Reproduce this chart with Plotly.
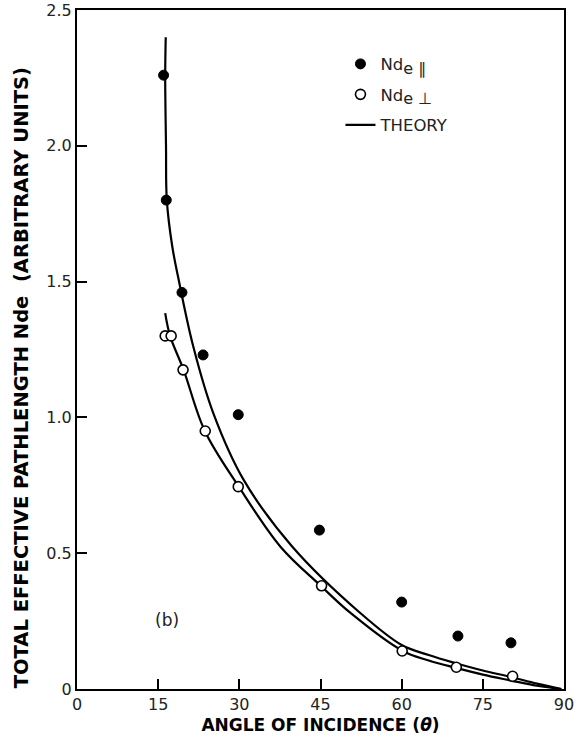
import plotly.graph_objects as go

# Measured data: Nde parallel (filled) and Nde perpendicular (open)
par_angle = [16.0, 16.5, 19.4, 23.3, 29.8, 44.8, 60.0, 70.4, 80.2]
par_nde = [2.26, 1.80, 1.46, 1.23, 1.01, 0.585, 0.32, 0.195, 0.17]

perp_angle = [16.3, 17.4, 19.6, 23.7, 29.8, 45.2, 60.1, 70.1, 80.5]
perp_nde = [1.30, 1.30, 1.175, 0.95, 0.745, 0.38, 0.14, 0.08, 0.047]

# Theory curves
theory_par_angle = [16.4, 16.3, 16.45, 16.6, 17.6, 18.8, 21.5, 25.2, 30.8, 39.8, 52.4,
                    60.0, 65.0, 70.0, 75.0, 80.0, 85.0, 89.5]
theory_par_nde = [2.40, 2.26, 2.00, 1.80, 1.63, 1.506, 1.26, 1.015, 0.77, 0.524, 0.279,
                  0.162, 0.125, 0.095, 0.068, 0.045, 0.02, 0.0]

theory_perp_angle = [16.3, 17.2, 19.7, 23.6, 29.9, 37.6, 45.1, 50.6, 60.2, 65.0, 70.0,
                     75.0, 80.0, 85.0, 89.5]
theory_perp_nde = [1.384, 1.30, 1.175, 0.951, 0.745, 0.524, 0.379, 0.279, 0.14, 0.105, 0.078,
                   0.053, 0.032, 0.012, 0.0]

x_ticks = [0, 15, 30, 45, 60, 75, 90]
y_ticks = [0, 0.5, 1.0, 1.5, 2.0, 2.5]
y_tick_labels = ["0", "0.5", "1.0", "1.5", "2.0", "2.5"]

FONT = "DejaVu Sans"
TXT = "#222222"

fig = go.Figure()

fig.add_trace(go.Scatter(
    x=theory_par_angle, y=theory_par_nde, mode="lines",
    line=dict(color="black", width=2.2, shape="spline", smoothing=1.0),
    name="THEORY", legendrank=3, legendgroup="c", showlegend=True))
fig.add_trace(go.Scatter(
    x=theory_perp_angle, y=theory_perp_nde, mode="lines",
    line=dict(color="black", width=2.2, shape="spline", smoothing=1.0),
    name="THEORY", legendgroup="c", showlegend=False))
fig.add_trace(go.Scatter(
    x=par_angle, y=par_nde, mode="markers",
    marker=dict(symbol="circle", size=10, color="black", line=dict(color="black", width=1)),
    name="Nd<sub><span style='font-size:16px'>e ∥</span></sub>", legendrank=1, legendgroup="a"))
fig.add_trace(go.Scatter(
    x=perp_angle, y=perp_nde, mode="markers",
    marker=dict(symbol="circle", size=10, color="white", line=dict(color="black", width=1.6)),
    name="Nd<sub><span style='font-size:16px'>e ⊥</span></sub>", legendrank=2, legendgroup="b"))

fig.add_annotation(x=16.7, y=0.254, xref="x", yref="y", text="(b)", showarrow=False,
                   font=dict(family=FONT, size=17, color=TXT))

# Y axis title placed as rotated text (centred as in the reference)
fig.add_annotation(x=-0.115, y=0.459, xref="paper", yref="paper", xanchor="center",
                   yanchor="middle", textangle=-90, showarrow=False,
                   text="<b>TOTAL EFFECTIVE PATHLENGTH Nde  (ARBITRARY UNITS)</b>",
                   font=dict(family=FONT, size=19.5, color="black"))

fig.update_layout(
    width=583, height=741,
    margin=dict(l=77, r=19, t=10, b=52),
    paper_bgcolor="white", plot_bgcolor="white",
    font=dict(family=FONT, color=TXT, size=16),
    legend=dict(x=0.541, y=0.946, xanchor="left", yanchor="top",
                bgcolor="rgba(0,0,0,0)", font=dict(family=FONT, size=16.5, color=TXT),
                tracegroupgap=6, itemwidth=30),
    showlegend=True,
)

fig.update_xaxes(
    range=[0, 90], tickvals=x_ticks, ticktext=[str(v) for v in x_ticks],
    ticks="inside", ticklen=10, tickwidth=2, tickcolor="black",
    showline=True, linecolor="black", linewidth=2, mirror=True,
    showgrid=False, zeroline=False, automargin=False,
    tickfont=dict(family=FONT, size=16, color=TXT),
    title=dict(text="<b>ANGLE OF INCIDENCE (<i>θ</i>)</b>", standoff=6,
               font=dict(family=FONT, size=17, color="black")),
)
fig.update_yaxes(
    range=[0, 2.5], tickvals=y_ticks, ticktext=y_tick_labels,
    ticks="inside", ticklen=10, tickwidth=2, tickcolor="black",
    showline=True, linecolor="black", linewidth=2, mirror=True,
    showgrid=False, zeroline=False, automargin=False,
    tickfont=dict(family=FONT, size=16, color=TXT),
)

fig.write_html("out.html", config={"displayModeBar": False},
               post_script="document.body.style.margin='0';")
